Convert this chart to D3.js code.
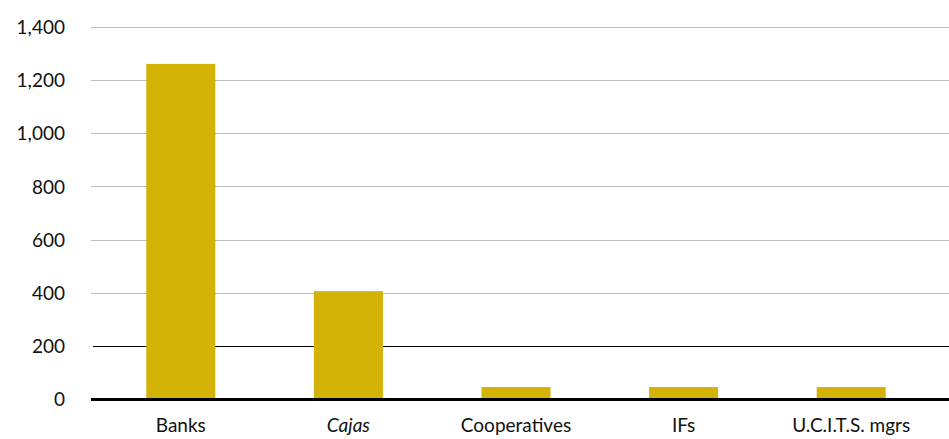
<!DOCTYPE html>
<html><head><meta charset="utf-8">
<script src="https://cdn.jsdelivr.net/npm/d3@7"></script>
<style>body{margin:0;background:#fff}svg{display:block}text{font-family:Lato,"Open Sans",sans-serif;fill:#111}</style>
</head><body><svg id="c" width="949" height="439"></svg>
<script>
const categories = ["Banks","Cajas","Cooperatives","IFs","U.C.I.T.S. mgrs"];
const italicCats = ["Cajas"];
const values = [1261, 406, 45, 45, 45];
const tickValues = [0,200,400,600,800,1000,1200,1400];

const svg = d3.select("#c");
const y = d3.scaleLinear().domain([0,1400]).range([399,27]);
const x = d3.scaleBand().domain(categories).range([97,935]).paddingInner(0.588).paddingOuter(0.294);

// gridlines
svg.append("g").selectAll("line").data(tickValues.filter(v=>v>0)).join("line")
  .attr("x1", d=> d===200 ? 93 : 91).attr("x2",949)
  .attr("y1", d=>Math.round(y(d))+0.5).attr("y2", d=>Math.round(y(d))+0.5)
  .attr("stroke", d=> d===200 ? "#000" : "#bdbdbd").attr("stroke-width",1);

// bars
svg.append("g").selectAll("rect").data(values).join("rect")
  .attr("x",(d,i)=>x(categories[i])).attr("width",x.bandwidth())
  .attr("y",d=>y(d)).attr("height",d=>y(0)-y(d))
  .attr("fill","#D3B305");

// zero axis
svg.append("line").attr("x1",91).attr("x2",949).attr("y1",y(0)+0.5).attr("y2",y(0)+0.5)
  .attr("stroke","#000").attr("stroke-width",3);

// y tick labels
const yAxis = d3.axisLeft(y).tickValues(tickValues).tickFormat(d3.format(",")).tickSize(0).tickPadding(0);
const ga = svg.append("g").attr("transform","translate(65,0)").call(yAxis);
ga.select(".domain").remove();
ga.selectAll("text").attr("font-size",19).attr("font-family","Lato, 'Open Sans', sans-serif").attr("fill","#111").attr("dy","0.35em");

// x labels
const xAxis = d3.axisBottom(x).tickSize(0).tickPadding(0);
const gx = svg.append("g").attr("transform","translate(0,432)").call(xAxis);
gx.select(".domain").remove();
gx.selectAll("text").attr("font-size",19).attr("font-family","Lato, 'Open Sans', sans-serif").attr("fill","#111").attr("dy","0")
  .attr("font-style", d=> italicCats.includes(d) ? "italic" : "normal");
</script></body></html>
